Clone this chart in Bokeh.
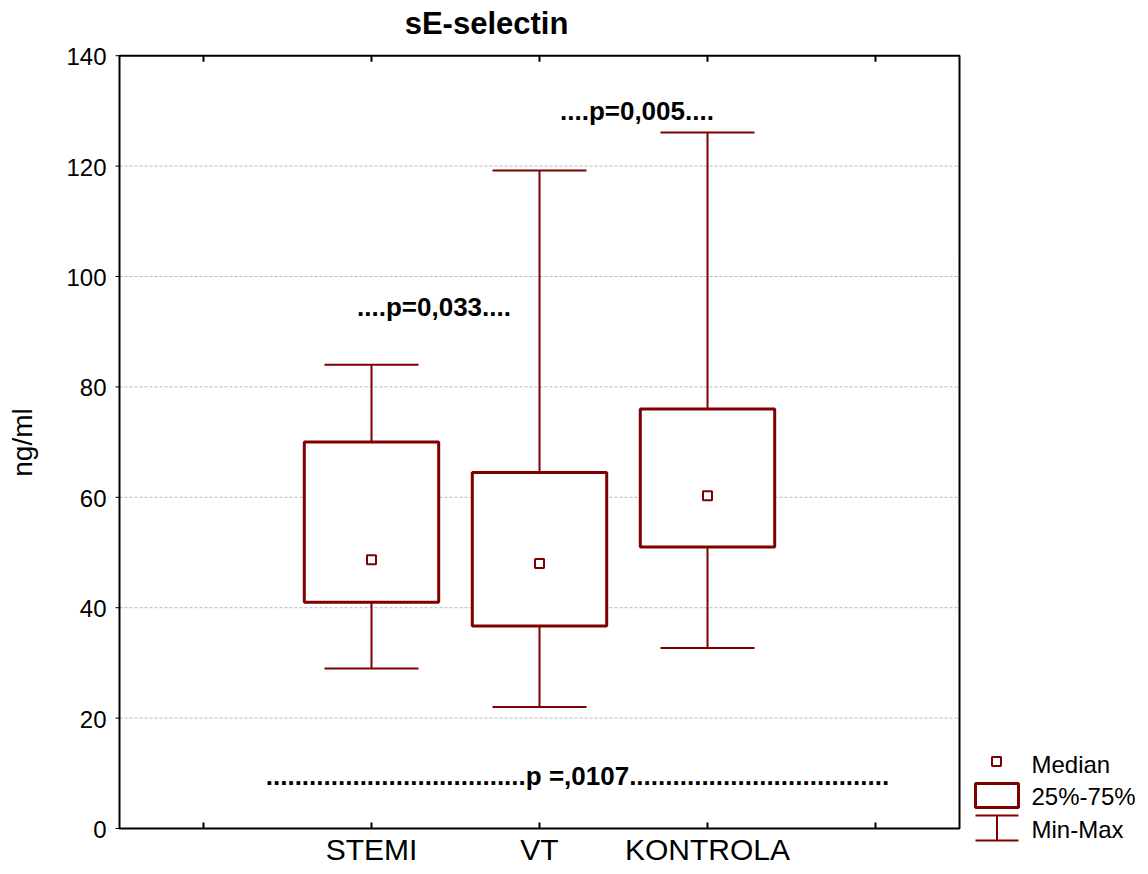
import numpy as np
from bokeh.plotting import figure
from bokeh.models import Range1d
from bokeh.core.properties import value
from bokeh.embed import file_html
from bokeh.resources import INLINE

# ---- data ----
categories = ["STEMI", "VT", "KONTROLA"]
cat_pos = [1, 2, 3]
minimum = [29.0, 22.0, 32.7]
q25 = [41.0, 36.7, 51.0]
median = [48.7, 48.0, 60.3]
q75 = [70.0, 64.5, 76.0]
maximum = [84.0, 119.2, 126.1]
y_ticks = [0, 20, 40, 60, 80, 100, 120, 140]
y_tick_labels = [str(v) for v in y_ticks]
x_ticks = [0, 1, 2, 3, 4]
p_texts = ["....p=0,033....", "....p=0,005....", "." * 36 + "p =,0107" + "." * 36]
p_x = [1.372, 2.58, 2.226]
p_y = [94.4, 130.0, 9.5]
legend_labels = ["Median", "25%-75%", "Min-Max"]
title_text = "sE-selectin"
y_title = "ng/ml"

# ---- layout constants (pixels) ----
RED = "#800000"
FONT = "Liberation Sans"
W, H = 1140, 866
PX_X = 168.0               # px per category step
PX_Y = 5.52                # px per ng/ml
X0_PX, Y0_PX = 119, 828    # pixel of x=-0.5 and of y=0
X_LO, X_HI, Y_LO, Y_HI = -0.5, 4.5, 0, 140


def dx(px):
    return (px - X0_PX) / PX_X + X_LO


def dy(py):
    return (Y0_PX - py) / PX_Y


p = figure(width=W, height=H, output_backend="svg", toolbar_location=None,
           x_range=Range1d(dx(0), dx(W)), y_range=Range1d(dy(H), dy(0)),
           x_axis_location=None, y_axis_location=None,
           min_border=0, background_fill_color="white", border_fill_color="white")
p.title.visible = False
p.outline_line_color = None
p.grid.visible = False

# gridlines
grid_vals = y_ticks[1:-1]
p.segment(x0=X_LO, x1=X_HI, y0=grid_vals, y1=grid_vals, line_color="#b8b8b8",
          line_dash="3 2", line_width=1)
# plot frame
p.quad(left=[X_LO], right=[X_HI], bottom=[Y_LO], top=[Y_HI], fill_color=None,
       line_color="black", line_width=2)
# inner ticks on bottom and top
tick_len = 6 / PX_Y
p.segment(x0=x_ticks, x1=x_ticks, y0=Y_LO, y1=Y_LO + tick_len, line_color="black", line_width=2)
p.segment(x0=x_ticks, x1=x_ticks, y0=Y_HI, y1=Y_HI - tick_len, line_color="black", line_width=2)
# y ticks (outside) and labels
p.segment(x0=X_LO - 4 / PX_X, x1=X_LO, y0=y_ticks, y1=y_ticks, line_color="black", line_width=1)
p.text(x=X_LO - 13 / PX_X, y=y_ticks, text=y_tick_labels, y_offset=1, text_font=value(FONT),
       text_font_size="24px", text_align="right", text_baseline="middle", text_color="black")
# y axis title
p.text(x=[dx(22)], y=[dy(442)], text=[y_title], angle=np.pi / 2, text_font=value(FONT),
       text_font_size="28px", text_align="center", text_baseline="middle", text_color="black")
# category labels
p.text(x=cat_pos, y=Y_LO, text=categories, y_offset=21, text_font=value(FONT),
       text_font_size="30px", text_align="center", text_baseline="middle",
       text_color="black")
# title
p.text(x=[dx(486)], y=[dy(22.5)], text=[title_text], text_font=value(FONT),
       text_font_size="31px", text_font_style="bold", text_align="center",
       text_baseline="middle", text_color="black")

# whiskers
p.segment(x0=cat_pos, y0=minimum, x1=cat_pos, y1=maximum, line_color=RED, line_width=2)
p.scatter(x=cat_pos, y=minimum, marker="dash", size=94, line_color=RED, line_width=2)
p.scatter(x=cat_pos, y=maximum, marker="dash", size=94, line_color=RED, line_width=2)
# boxes
p.vbar(x=cat_pos, width=0.8, bottom=q25, top=q75, fill_color="white",
       line_color=RED, line_width=3)
# medians
p.scatter(x=cat_pos, y=median, marker="square", size=9, fill_color="white",
          line_color=RED, line_width=2)

# p-value annotations
p.text(x=p_x, y=p_y, text=p_texts, text_font=value(FONT), text_font_size="26px",
       text_font_style="bold", text_align="center", text_baseline="middle",
       text_color="black")

# ---- legend (outside the frame box, right) ----
p.scatter(x=[dx(996)], y=[dy(761)], marker="square", size=9, fill_color="white",
          line_color=RED, line_width=2)
p.quad(left=[dx(975)], right=[dx(1018)], top=[dy(783)], bottom=[dy(807)],
       fill_color="white", line_color=RED, line_width=3)
p.segment(x0=[dx(975), dx(975), dx(996.5)], y0=[dy(815), dy(840), dy(815)],
          x1=[dx(1018), dx(1018), dx(996.5)], y1=[dy(815), dy(840), dy(840)],
          line_color=RED, line_width=2)
p.text(x=[dx(1031)] * 3, y=[dy(763.5), dy(796), dy(829)], text=legend_labels,
       text_font=value(FONT), text_font_size="24px", text_baseline="middle",
       text_align="left", text_color="black")

open("out.html", "w").write(file_html(p, INLINE))
